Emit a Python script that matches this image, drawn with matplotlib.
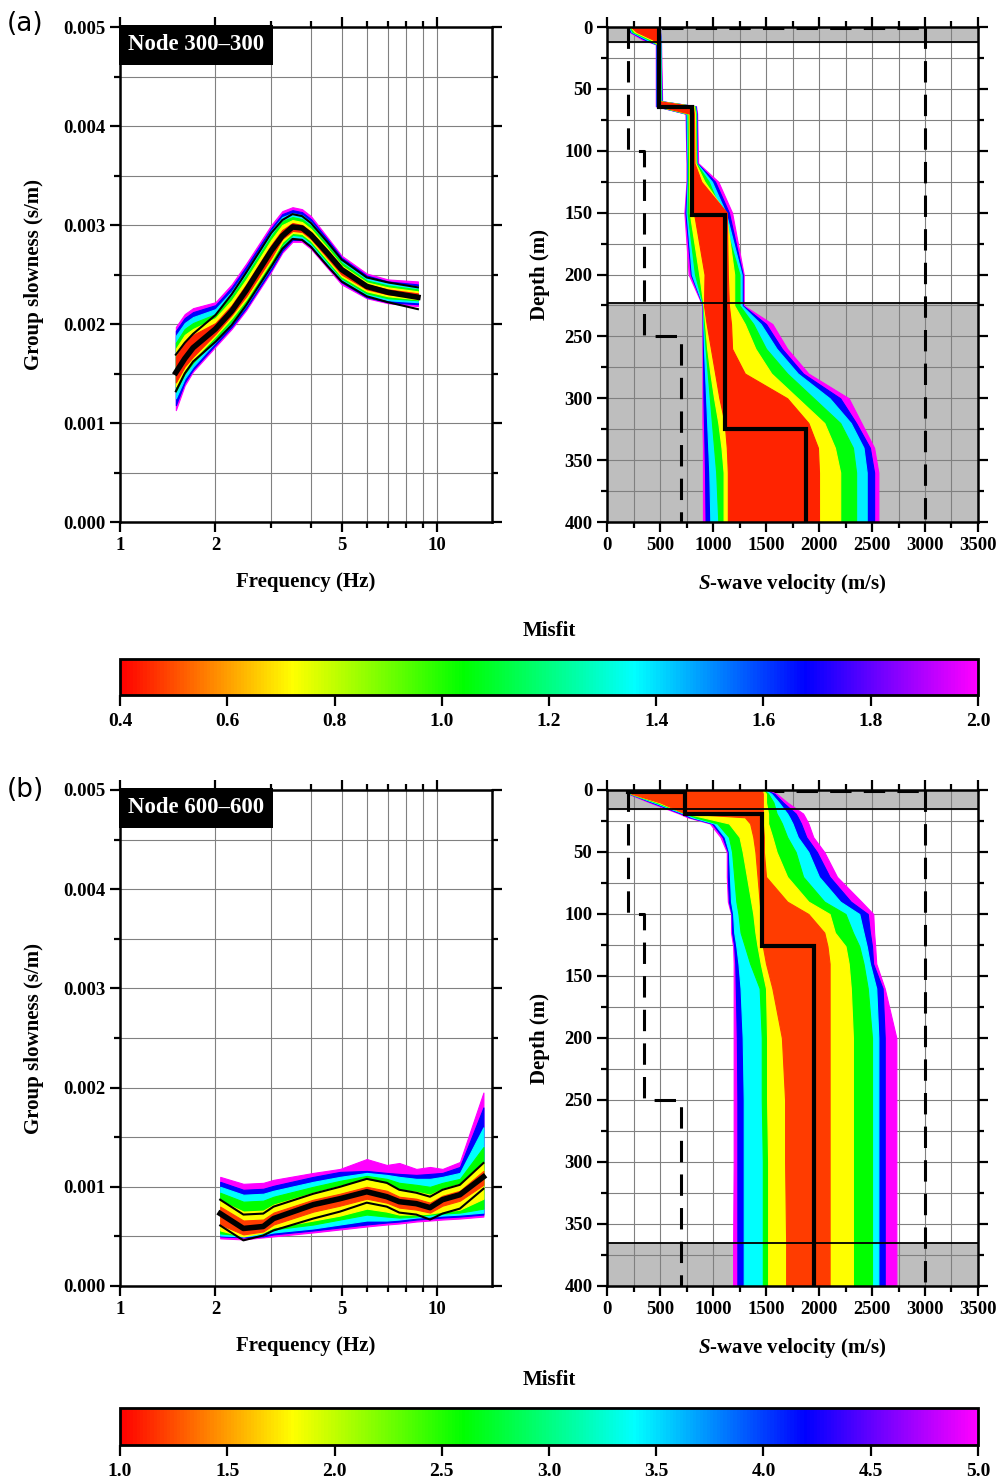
import numpy as np
import matplotlib
matplotlib.use("Agg")
import matplotlib.pyplot as plt
from matplotlib.colors import LinearSegmentedColormap, Normalize
from matplotlib.cm import ScalarMappable
from matplotlib.ticker import FixedLocator, NullFormatter, MultipleLocator, FormatStrFormatter

plt.rcParams['font.family'] = 'serif'
plt.rcParams['font.serif'] = ['Liberation Serif', 'DejaVu Serif']
plt.rcParams['font.weight'] = 'bold'
plt.rcParams['axes.labelweight'] = 'bold'
plt.rcParams['mathtext.fontset'] = 'custom'
plt.rcParams['mathtext.it'] = 'Liberation Serif:italic:bold'
plt.rcParams['mathtext.rm'] = 'Liberation Serif:bold'

# ---------------- data: node 300-300 ----------------
a_freq = [1.5, 1.6, 1.7, 2.0, 2.25, 2.5, 3.0, 3.25, 3.5, 3.75, 4.0, 4.5, 5.0, 6.0, 7.0, 8.7]
a_obs_mid = [0.00151, 0.00165, 0.00176, 0.00195, 0.00213, 0.00234, 0.00274, 0.00289, 0.00298, 0.00297, 0.00290, 0.00272, 0.00255, 0.00238, 0.00232, 0.00227]
a_obs_hi = [0.00169, 0.00181, 0.00190, 0.00209, 0.00230, 0.00252, 0.00292, 0.00305, 0.00311, 0.00309, 0.00302, 0.00283, 0.00265, 0.00247, 0.00242, 0.00237]
a_obs_lo = [0.00132, 0.00150, 0.00162, 0.00182, 0.00199, 0.00219, 0.00258, 0.00276, 0.00286, 0.00285, 0.00278, 0.00259, 0.00243, 0.00228, 0.00222, 0.00215]

a_misfit = [2.0, 1.68, 1.38, 1.05, 0.72, 0.45]
a_disp_hi = [
    [0.00197, 0.00210, 0.00216, 0.00222, 0.00240, 0.00261, 0.00300, 0.00314, 0.00318, 0.00316, 0.00309, 0.00288, 0.00269, 0.00251, 0.00245, 0.00243],
    [0.00193, 0.00206, 0.00212, 0.00219, 0.00237, 0.00258, 0.00297, 0.00311, 0.00315, 0.00313, 0.00306, 0.00286, 0.00267, 0.00249, 0.00243, 0.00240],
    [0.00188, 0.00201, 0.00207, 0.00215, 0.00233, 0.00254, 0.00294, 0.00308, 0.00312, 0.00310, 0.00303, 0.00283, 0.00265, 0.00247, 0.00241, 0.00238],
    [0.00181, 0.00195, 0.00201, 0.00210, 0.00228, 0.00249, 0.00289, 0.00304, 0.00308, 0.00306, 0.00299, 0.00280, 0.00262, 0.00244, 0.00239, 0.00235],
    [0.00175, 0.00189, 0.00195, 0.00206, 0.00224, 0.00245, 0.00285, 0.00300, 0.00305, 0.00303, 0.00296, 0.00277, 0.00259, 0.00242, 0.00237, 0.00233],
    [0.00167, 0.00181, 0.00189, 0.00201, 0.00219, 0.00240, 0.00280, 0.00295, 0.00302, 0.00300, 0.00293, 0.00274, 0.00257, 0.00240, 0.00235, 0.00231],
]
a_disp_lo = [
    [0.00113, 0.00138, 0.00152, 0.00177, 0.00195, 0.00214, 0.00253, 0.00272, 0.00283, 0.00283, 0.00276, 0.00257, 0.00240, 0.00226, 0.00221, 0.00218],
    [0.00118, 0.00141, 0.00154, 0.00179, 0.00197, 0.00216, 0.00255, 0.00274, 0.00285, 0.00285, 0.00278, 0.00259, 0.00242, 0.00227, 0.00222, 0.00220],
    [0.00125, 0.00145, 0.00157, 0.00182, 0.00200, 0.00219, 0.00258, 0.00277, 0.00287, 0.00287, 0.00280, 0.00261, 0.00244, 0.00229, 0.00224, 0.00222],
    [0.00132, 0.00150, 0.00161, 0.00185, 0.00203, 0.00222, 0.00261, 0.00280, 0.00290, 0.00289, 0.00282, 0.00263, 0.00246, 0.00231, 0.00226, 0.00224],
    [0.00137, 0.00154, 0.00164, 0.00188, 0.00206, 0.00225, 0.00264, 0.00283, 0.00292, 0.00291, 0.00284, 0.00265, 0.00248, 0.00233, 0.00228, 0.00225],
    [0.00141, 0.00157, 0.00167, 0.00190, 0.00209, 0.00228, 0.00267, 0.00286, 0.00294, 0.00293, 0.00286, 0.00267, 0.00250, 0.00235, 0.00230, 0.00227],
]

a_depth = [0, 4, 10, 14, 60, 64, 70, 110, 125, 150, 200, 225, 240, 260, 280, 300, 320, 340, 360, 400]
a_vel_min = [
    [200, 210, 330, 460, 460, 460, 740, 750, 750, 730, 770, 900, 900, 900, 900, 900, 900, 905, 905, 905],
    [205, 220, 350, 465, 465, 465, 745, 755, 755, 740, 790, 902, 903, 905, 908, 910, 915, 920, 925, 930],
    [210, 230, 370, 470, 470, 470, 750, 760, 760, 750, 800, 905, 908, 915, 925, 935, 945, 955, 965, 975],
    [215, 240, 390, 475, 475, 475, 760, 765, 765, 760, 830, 908, 915, 930, 950, 970, 990, 1010, 1030, 1050],
    [220, 260, 410, 480, 480, 480, 770, 775, 775, 780, 870, 910, 925, 945, 975, 1010, 1050, 1080, 1100, 1100],
    [225, 280, 430, 485, 485, 485, 780, 785, 785, 820, 920, 915, 940, 980, 1020, 1060, 1110, 1130, 1140, 1140],
]
a_vel_max = [
    [500, 500, 510, 510, 520, 840, 850, 860, 1050, 1180, 1290, 1290, 1560, 1700, 1900, 2280, 2400, 2520, 2560, 2560],
    [500, 500, 505, 505, 515, 835, 845, 850, 1020, 1150, 1280, 1280, 1500, 1650, 1850, 2200, 2350, 2480, 2520, 2520],
    [500, 500, 505, 505, 510, 830, 840, 845, 990, 1120, 1270, 1270, 1450, 1600, 1800, 2100, 2300, 2420, 2450, 2450],
    [495, 495, 500, 500, 505, 825, 835, 840, 960, 1080, 1250, 1250, 1380, 1500, 1700, 1950, 2200, 2320, 2350, 2350],
    [495, 495, 500, 500, 500, 820, 830, 835, 920, 1120, 1200, 1200, 1300, 1400, 1550, 1800, 2050, 2150, 2200, 2200],
    [495, 495, 495, 495, 495, 810, 820, 825, 890, 1130, 1140, 1150, 1170, 1180, 1300, 1700, 1900, 1990, 2000, 2000],
]
a_best_edges = [0, 65, 152, 325, 400]
a_best_vs = [490, 800, 1110, 1880]
a_gray = [(0, 12), (223, 400)]

# ---------------- data: node 600-600 ----------------
b_freq = [2.07, 2.45, 2.83, 3.05, 4.07, 4.94, 6.0, 6.94, 7.6, 8.6, 9.5, 10.4, 11.8, 14.0]
b_obs_mid = [0.00073, 0.00058, 0.00060, 0.00068, 0.00082, 0.00088, 0.00095, 0.00090, 0.00085, 0.00083, 0.00079, 0.00087, 0.00092, 0.00110]
b_obs_hi = [0.00087, 0.00072, 0.00073, 0.00080, 0.00093, 0.00100, 0.00108, 0.00104, 0.00097, 0.00094, 0.00090, 0.00097, 0.00102, 0.00124]
b_obs_lo = [0.00061, 0.00046, 0.00051, 0.00056, 0.00068, 0.00075, 0.00084, 0.00080, 0.00074, 0.00072, 0.00067, 0.00073, 0.00078, 0.00098]

b_misfit = [5.0, 4.2, 3.4, 2.6, 1.8, 1.2]
b_disp_hi = [
    [0.00110, 0.00103, 0.00104, 0.00107, 0.00114, 0.00118, 0.00128, 0.00122, 0.00124, 0.00118, 0.00120, 0.00118, 0.00125, 0.00195],
    [0.00105, 0.00097, 0.00098, 0.00101, 0.00110, 0.00115, 0.00116, 0.00114, 0.00113, 0.00112, 0.00113, 0.00114, 0.00120, 0.00180],
    [0.00100, 0.00092, 0.00093, 0.00096, 0.00105, 0.00110, 0.00114, 0.00112, 0.00110, 0.00108, 0.00108, 0.00110, 0.00114, 0.00160],
    [0.00094, 0.00085, 0.00086, 0.00090, 0.00100, 0.00106, 0.00111, 0.00108, 0.00104, 0.00102, 0.00100, 0.00104, 0.00108, 0.00140],
    [0.00086, 0.00075, 0.00076, 0.00082, 0.00094, 0.00101, 0.00107, 0.00103, 0.00097, 0.00095, 0.00092, 0.00098, 0.00103, 0.00125],
    [0.00080, 0.00066, 0.00067, 0.00074, 0.00087, 0.00093, 0.00100, 0.00096, 0.00090, 0.00088, 0.00084, 0.00091, 0.00096, 0.00116],
]
b_disp_lo = [
    [0.00048, 0.00047, 0.00049, 0.00050, 0.00054, 0.00057, 0.00060, 0.00062, 0.00063, 0.00065, 0.00066, 0.00067, 0.00068, 0.00070],
    [0.00050, 0.00049, 0.00050, 0.00052, 0.00056, 0.00059, 0.00062, 0.00064, 0.00065, 0.00067, 0.00068, 0.00069, 0.00070, 0.00072],
    [0.00051, 0.00050, 0.00052, 0.00054, 0.00058, 0.00062, 0.00066, 0.00066, 0.00067, 0.00069, 0.00070, 0.00071, 0.00072, 0.00074],
    [0.00053, 0.00051, 0.00054, 0.00057, 0.00062, 0.00067, 0.00072, 0.00070, 0.00069, 0.00070, 0.00072, 0.00073, 0.00074, 0.00078],
    [0.00056, 0.00050, 0.00054, 0.00059, 0.00066, 0.00071, 0.00078, 0.00075, 0.00072, 0.00072, 0.00073, 0.00075, 0.00077, 0.00088],
    [0.00062, 0.00052, 0.00055, 0.00062, 0.00075, 0.00081, 0.00088, 0.00084, 0.00079, 0.00077, 0.00074, 0.00081, 0.00086, 0.00102],
]

b_depth = [0, 3, 10, 19, 22, 27, 38, 50, 70, 90, 100, 115, 126, 140, 160, 200, 250, 300, 365, 400]
b_vel_min = [
    [200, 200, 400, 680, 760, 970, 1070, 1130, 1130, 1140, 1170, 1170, 1190, 1195, 1195, 1195, 1195, 1195, 1190, 1190],
    [205, 210, 420, 700, 780, 990, 1090, 1140, 1140, 1150, 1175, 1180, 1200, 1210, 1215, 1225, 1230, 1230, 1230, 1230],
    [210, 215, 440, 720, 800, 1010, 1110, 1150, 1160, 1170, 1190, 1200, 1220, 1240, 1260, 1280, 1290, 1290, 1290, 1290],
    [215, 220, 460, 740, 830, 1040, 1150, 1180, 1200, 1220, 1240, 1260, 1300, 1350, 1440, 1460, 1460, 1470, 1470, 1470],
    [220, 225, 480, 745, 900, 1150, 1250, 1280, 1320, 1360, 1380, 1400, 1420, 1450, 1500, 1510, 1510, 1520, 1520, 1520],
    [225, 230, 500, 740, 1300, 1350, 1380, 1400, 1420, 1440, 1450, 1460, 1470, 1500, 1560, 1650, 1680, 1680, 1690, 1690],
]
b_vel_max = [
    [1510, 1600, 1700, 1850, 1870, 1900, 1946, 2050, 2170, 2400, 2512, 2520, 2530, 2540, 2620, 2730, 2730, 2730, 2730, 2730],
    [1500, 1580, 1660, 1780, 1800, 1830, 1880, 1980, 2100, 2300, 2460, 2480, 2500, 2510, 2600, 2620, 2620, 2620, 2620, 2620],
    [1490, 1550, 1620, 1700, 1720, 1750, 1800, 1900, 2000, 2200, 2380, 2420, 2450, 2480, 2540, 2560, 2560, 2560, 2560, 2560],
    [1480, 1520, 1570, 1600, 1620, 1650, 1700, 1780, 1850, 2050, 2250, 2320, 2380, 2420, 2460, 2500, 2500, 2500, 2500, 2500],
    [1470, 1500, 1500, 1520, 1520, 1520, 1560, 1600, 1700, 1900, 2100, 2150, 2250, 2280, 2300, 2320, 2320, 2320, 2320, 2320],
    [1460, 1470, 1470, 1470, 1470, 1470, 1480, 1480, 1500, 1700, 1900, 2050, 2080, 2100, 2100, 2100, 2100, 2100, 2100, 2100],
]
b_best_edges = [0, 2, 19, 126, 400]
b_best_vs = [200, 740, 1460, 1950]
b_gray = [(0, 15), (365, 400)]

# parameter-space bounds (same for both nodes)
bound_min_v = [200, 200, 350, 350, 700, 700]
bound_min_d = [0, 100, 100, 250, 250, 400]
bound_max_v = [3000, 3000]
bound_max_d = [0, 400]
bound_top_v = [200, 3000]
bound_top_d = [0.6, 0.6]

cmap = LinearSegmentedColormap.from_list(
    'misfit', ['#ff0000', '#ffff00', '#00ff00', '#00ffff', '#0000ff', '#ff00ff'])

W, H = 999, 1480
fig = plt.figure(figsize=(W / 100, H / 100), dpi=100)


def box(x0, y0, x1, y1):
    return [x0 / W, 1 - y1 / H, (x1 - x0) / W, (y1 - y0) / H]


def frame(ax):
    for s in ax.spines.values():
        s.set_linewidth(1.8)
        s.set_zorder(10)
    ax.tick_params(which='both', direction='out', width=1.6, top=True, right=True,
                   labelsize=13.5)
    ax.tick_params(which='major', length=7)
    ax.tick_params(which='minor', length=4.5)
    ax.grid(which='both', color='#808080', lw=0.8, zorder=1)


def disp_panel(rect, freq, mid, hi, lo, misfit, bhi, blo, norm, node):
    ax = fig.add_axes(box(*rect))
    for m, u, l in zip(misfit, bhi, blo):
        ax.fill_between(freq, l, u, color=cmap(norm(m)), lw=0.8,
                        edgecolor=cmap(norm(m)), zorder=2)
    ax.plot(freq, hi, color='k', lw=1.5, zorder=5)
    ax.plot(freq, lo, color='k', lw=1.5, zorder=5)
    ax.plot(freq, mid, color='k', lw=4, zorder=5, solid_joinstyle='round')
    ax.set_xscale('log')
    ax.set_xlim(1, 14.9)
    ax.set_ylim(0, 0.005)
    ax.xaxis.set_major_locator(FixedLocator([1, 2, 5, 10]))
    ax.xaxis.set_major_formatter(FormatStrFormatter('%g'))
    ax.xaxis.set_minor_locator(FixedLocator([3, 4, 6, 7, 8, 9]))
    ax.xaxis.set_minor_formatter(NullFormatter())
    ax.yaxis.set_major_locator(MultipleLocator(0.001))
    ax.yaxis.set_minor_locator(MultipleLocator(0.0005))
    ax.yaxis.set_major_formatter(FormatStrFormatter('%.3f'))
    frame(ax)
    ax.set_xlabel('Frequency (Hz)', fontsize=15, labelpad=13)
    ax.set_ylabel('Group slowness (s/m)', fontsize=15, labelpad=14)
    ax.text(0.022, 0.985, node, transform=ax.transAxes, color='white', fontsize=16.5,
            va='top', ha='left', zorder=12,
            bbox=dict(facecolor='black', edgecolor='none', boxstyle='square,pad=0.4'))
    return ax


def vel_panel(rect, depth, vmin, vmax, misfit, norm, edges, vs, gray):
    ax = fig.add_axes(box(*rect))
    for d0, d1 in gray:
        ax.axhspan(d0, d1, color='#bebebe', zorder=0.5)
        for d in (d0, d1):
            if 0 < d < 400:
                ax.axhline(d, color='k', lw=1.3, zorder=6)
    ax.plot(bound_top_v, bound_top_d, color='k', lw=2.2, dashes=(7, 4), zorder=1.8)
    for m, l, u in zip(misfit, vmin, vmax):
        ax.fill_betweenx(depth, l, u, color=cmap(norm(m)), lw=0.8,
                         edgecolor=cmap(norm(m)), zorder=2)
    ax.plot(bound_min_v, bound_min_d, color='k', lw=2.2, dashes=(7, 4), zorder=4)
    ax.plot(bound_max_v, bound_max_d, color='k', lw=2.2, dashes=(7, 4), zorder=4)
    ax.stairs(vs, edges, orientation='horizontal', baseline=None, color='k', lw=3, zorder=7)
    ax.set_xlim(0, 3500)
    ax.set_ylim(400, 0)
    ax.xaxis.set_major_locator(MultipleLocator(500))
    ax.xaxis.set_minor_locator(MultipleLocator(250))
    ax.yaxis.set_major_locator(MultipleLocator(50))
    ax.yaxis.set_minor_locator(MultipleLocator(25))
    frame(ax)
    ax.set_xlabel('$S$-wave velocity (m/s)', fontsize=15, labelpad=13)
    ax.set_ylabel('Depth (m)', fontsize=15, labelpad=10)
    return ax


def colorbar(rect, vmin, vmax, ticks, label_y):
    cax = fig.add_axes(box(*rect))
    norm = Normalize(vmin, vmax)
    cb = fig.colorbar(ScalarMappable(norm=norm, cmap=cmap), cax=cax, orientation='horizontal')
    cb.set_ticks(ticks)
    cb.ax.xaxis.set_major_formatter(FormatStrFormatter('%.1f'))
    cb.outline.set_linewidth(2)
    cax.tick_params(direction='out', length=8, width=1.6, labelsize=14, pad=5)
    fig.text(549 / W, 1 - label_y / H, 'Misfit', ha='center', va='center', fontsize=15)


norm_a = Normalize(0.4, 2.0)
norm_b = Normalize(1.0, 5.0)

disp_panel((120, 27, 492, 522), a_freq, a_obs_mid, a_obs_hi, a_obs_lo,
           a_misfit, a_disp_hi, a_disp_lo, norm_a, 'Node 300\u2013300')
vel_panel((607, 27, 978, 522), a_depth, a_vel_min, a_vel_max, a_misfit, norm_a,
          a_best_edges, a_best_vs, a_gray)
colorbar((120, 659, 978, 695), 0.4, 2.0, [0.4, 0.6, 0.8, 1.0, 1.2, 1.4, 1.6, 1.8, 2.0], 631)

disp_panel((120, 790, 492, 1286), b_freq, b_obs_mid, b_obs_hi, b_obs_lo,
           b_misfit, b_disp_hi, b_disp_lo, norm_b, 'Node 600\u2013600')
vel_panel((607, 790, 978, 1286), b_depth, b_vel_min, b_vel_max, b_misfit, norm_b,
          b_best_edges, b_best_vs, b_gray)
colorbar((120, 1408, 978, 1445), 1.0, 5.0, [1.0, 1.5, 2.0, 2.5, 3.0, 3.5, 4.0, 4.5, 5.0], 1380)

fig.text(7 / W, 1 - 24 / H, '(a)', family='DejaVu Sans', fontweight='normal',
         fontsize=19, ha='left', va='center')
fig.text(7 / W, 1 - 790 / H, '(b)', family='DejaVu Sans', fontweight='normal',
         fontsize=19, ha='left', va='center')

fig.savefig('out.png', dpi=100)
